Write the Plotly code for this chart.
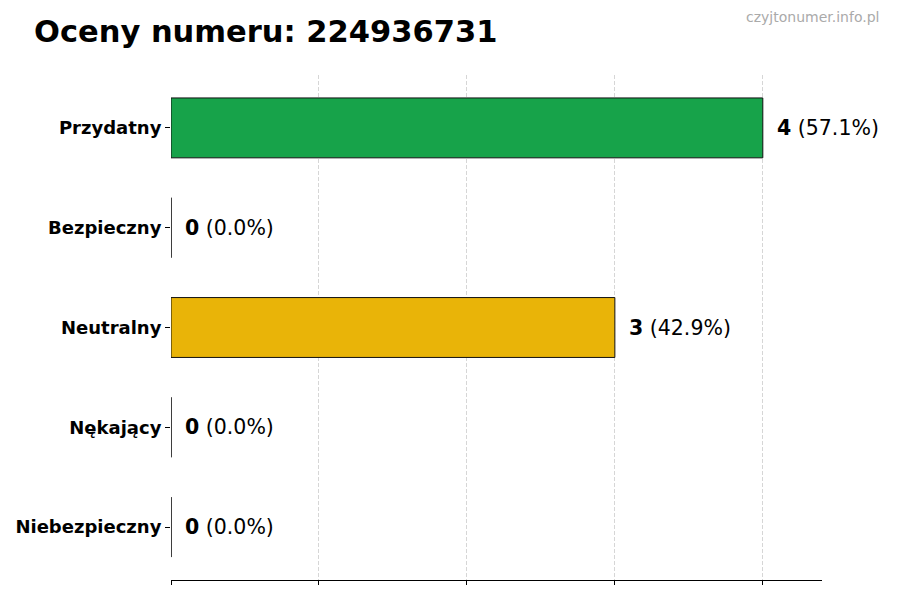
import plotly.graph_objects as go

categories = ["Przydatny", "Bezpieczny", "Neutralny", "Nękający", "Niebezpieczny"]
counts = [4, 0, 3, 0, 0]
bar_colors = ["#17a34a", "#3b82f6", "#e9b408", "#f97316", "#dc2626"]
phone = "224936731"

total = sum(counts)
x_max = max(counts) * 1.1

fig = go.Figure()

fig.add_trace(go.Bar(
    y=categories,
    x=counts,
    orientation='h',
    width=0.6,
    marker=dict(color=bar_colors, line=dict(color="#111111", width=1)),
    showlegend=False,
    hoverinfo='skip'
))

# zero bars only show their edge in the original
for cat, val in zip(categories, counts):
    if val == 0:
        idx = categories.index(cat)
        fig.add_shape(type="line", xref="x", yref="y",
                      x0=0, x1=0, y0=idx - 0.3, y1=idx + 0.3,
                      line=dict(color="#333333", width=1))

# value labels
for cat, val in zip(categories, counts):
    pct = val / total * 100 if total else 0
    fig.add_annotation(
        x=val + x_max * 0.018, y=cat,
        text="<b>%d</b> (%.1f%%)" % (val, pct),
        showarrow=False, xanchor='left', yanchor='middle',
        font=dict(size=20.5, color="black")
    )

fig.add_annotation(
    xref="paper", yref="paper", x=1.09, y=1.115,
    text="czyjtonumer.info.pl",
    showarrow=False, xanchor='right', yanchor='middle',
    font=dict(size=14, color="#aaaaaa")
)

# page body has an 8px margin, so everything is shifted up/left by 8px
fig.update_layout(
    width=900, height=600,
    margin=dict(l=163, r=86, t=67, b=28, autoexpand=False),
    plot_bgcolor="white",
    paper_bgcolor="white",
    font=dict(family="DejaVu Sans", color="black"),
    title=dict(
        text="<b>Oceny numeru: %s</b>" % phone,
        xref='container', yref='container',
        x=26 / 900, y=1 - 23 / 600,
        xanchor='left', yanchor='middle',
        font=dict(size=30.5, color="black", family="DejaVu Sans")
    ),
    bargap=0.4
)

fig.update_xaxes(
    range=[0, x_max],
    tickvals=[0, 1, 2, 3, 4],
    showticklabels=False,
    ticks='outside', ticklen=4, tickcolor="black",
    showgrid=True, gridcolor="#d6d6d6", griddash='4px,2px', gridwidth=0.8,
    showline=True, linecolor="black", linewidth=1,
    zeroline=False, automargin=False,
    layer='above traces'
)

fig.update_yaxes(
    autorange=False,
    range=[len(categories) - 0.47, -0.53],
    categoryorder='array', categoryarray=categories,
    tickfont=dict(size=18, family="DejaVu Sans"),
    tickprefix="<b>", ticksuffix="</b>",
    ticks='outside', ticklen=5, tickcolor="black",
    showgrid=False, showline=False, zeroline=False, automargin=False
)

fig.write_html("out.html")
